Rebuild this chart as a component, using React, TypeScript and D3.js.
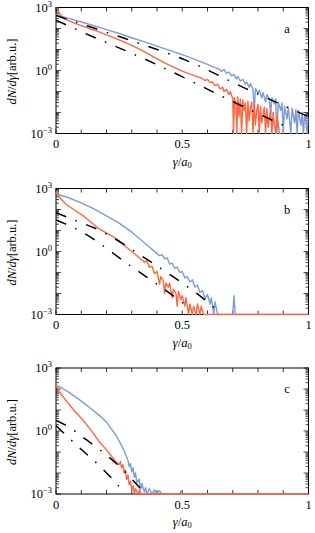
import React from "react";
import * as d3 from "d3";

const WIDTH = 315;
const HEIGHT = 533;
const LEFT = 56;
const RIGHT = 308.5;
const PANEL_TOPS = [7.5, 188.5, 368];
const PANEL_H = 126;

const BLUE = "#7d9bd6";
const RED = "#ff6640";
const FONT = "'Liberation Serif', 'DejaVu Serif', serif";

type Pt = [number, number];

// each point: [gamma / a0, log10(dN/dgamma)]
const aBlue: Pt[] = [
  [0, 2.66], [0.02, 2.58], [0.05, 2.48], [0.1, 2.31], [0.15, 2.13], [0.2, 1.95], [0.25, 1.76],
  [0.3, 1.56], [0.35, 1.36], [0.4, 1.16], [0.45, 0.96], [0.5, 0.76], [0.55, 0.53], [0.6, 0.29],
  [0.63, 0.14], [0.645, 0.08], [0.655, -0.05], [0.665, 0.05], [0.675, -0.12], [0.685, -0.08],
  [0.695, -0.25], [0.705, -0.2], [0.715, -0.4], [0.72, -0.28], [0.73, -0.5], [0.74, -0.42],
  [0.75, -0.65], [0.755, -0.55], [0.765, -0.8], [0.77, -0.62], [0.78, -0.9], [0.785, -1.9],
  [0.79, -0.85], [0.8, -1.1], [0.805, -0.95], [0.815, -1.3], [0.82, -1.05], [0.83, -1.5],
  [0.835, -1.15], [0.845, -1.35], [0.85, -2.1], [0.855, -1.3], [0.865, -1.6], [0.87, -1.35],
  [0.875, -3], [0.88, -1.5], [0.89, -1.9], [0.895, -1.55], [0.9, -3], [0.905, -1.7], [0.915, -2.3],
  [0.92, -1.75], [0.93, -3], [0.935, -1.8], [0.945, -2.5], [0.95, -1.85], [0.955, -3], [0.96, -1.9],
  [0.97, -2.6], [0.975, -2.0], [0.98, -3], [0.985, -2.1], [0.99, -2.4], [0.995, -3], [1.0, -2.2],
];
const aRed: Pt[] = [
  [0, 3.3], [0.004, 3.0], [0.01, 2.8], [0.02, 2.62], [0.03, 2.51], [0.045, 2.4], [0.07, 2.27],
  [0.1, 2.14], [0.15, 1.93], [0.2, 1.7], [0.25, 1.46], [0.3, 1.2], [0.35, 0.9], [0.4, 0.55],
  [0.45, 0.24], [0.5, -0.03], [0.55, -0.26], [0.58, -0.38], [0.59, -0.48], [0.6, -0.42],
  [0.61, -0.58], [0.62, -0.55], [0.63, -0.72], [0.64, -0.65], [0.65, -0.88], [0.66, -0.8],
  [0.665, -1.0], [0.675, -0.9], [0.685, -1.15], [0.69, -1.0], [0.7, -1.35], [0.703, -3],
  [0.707, -1.3], [0.712, -1.6], [0.716, -3], [0.72, -1.25], [0.725, -2.2], [0.73, -1.35],
  [0.735, -3], [0.74, -1.4], [0.745, -1.9], [0.75, -1.55], [0.755, -3], [0.76, -1.45],
  [0.765, -2.4], [0.77, -1.8], [0.775, -1.5], [0.78, -3], [0.785, -1.6], [0.79, -2.6],
  [0.795, -1.9], [0.8, -1.6], [0.805, -3], [0.81, -1.7], [0.815, -2.5], [0.82, -2.1],
  [0.825, -1.75], [0.83, -3], [0.835, -1.8], [0.84, -2.7], [0.845, -2.3], [0.85, -1.9],
  [0.855, -3], [0.86, -2.0], [0.865, -2.6], [0.87, -3], [0.875, -2.1], [0.885, -3], [0.89, -3],
];
const aFitHigh: Pt[] = [[0, 2.62], [0.15, 2.02], [0.4, 1.0], [0.5, 0.56], [0.75, -0.85], [1.0, -2.2]];
const aFitLow: Pt[] = [[0, 2.4], [0.1, 1.85], [0.36, 0.5], [0.735, -1.68], [0.92, -2.72]];

const bBlue: Pt[] = [
  [0, 2.75], [0.05, 2.56], [0.1, 2.32], [0.15, 2.03], [0.2, 1.7], [0.25, 1.35], [0.3, 0.92],
  [0.35, 0.42], [0.4, -0.1], [0.41, -0.2], [0.42, -0.15], [0.43, -0.35], [0.44, -0.3],
  [0.45, -0.6], [0.46, -0.55], [0.47, -0.8], [0.48, -0.75], [0.49, -1.0], [0.5, -0.95],
  [0.51, -1.25], [0.52, -1.2], [0.53, -1.45], [0.54, -1.35], [0.55, -1.7], [0.56, -1.6],
  [0.57, -1.95], [0.58, -1.85], [0.59, -2.25], [0.6, -2.05], [0.61, -2.5], [0.615, -2.2],
  [0.625, -3], [0.63, -2.4], [0.64, -3], [0.7, -3], [0.705, -2.1], [0.71, -3], [1.0, -3],
];
const bRed: Pt[] = [
  [0, 2.9], [0.006, 2.7], [0.02, 2.5], [0.04, 2.25], [0.07, 2.0], [0.108, 1.7], [0.14, 1.38],
  [0.174, 1.05], [0.21, 0.82], [0.24, 0.6], [0.27, 0.3], [0.3, 0.0], [0.33, -0.3], [0.35, -0.5],
  [0.36, -0.45], [0.37, -0.75], [0.38, -0.7], [0.39, -1.05], [0.4, -0.95], [0.41, -1.55],
  [0.415, -1.2], [0.425, -1.4], [0.43, -2.0], [0.435, -1.5], [0.445, -1.7], [0.45, -1.5],
  [0.46, -2.2], [0.465, -1.8], [0.475, -2.0], [0.48, -2.6], [0.485, -1.9], [0.495, -2.3],
  [0.5, -2.1], [0.51, -2.6], [0.515, -2.2], [0.525, -3], [0.53, -2.5], [0.54, -3],
  [0.545, -2.6], [0.555, -3], [0.56, -2.5], [0.57, -3], [0.575, -2.6], [0.585, -3], [1.0, -3],
];
const bFitHigh: Pt[] = [[0, 1.85], [0.082, 1.45], [0.15, 1.13], [0.37, -0.45], [0.49, -1.42], [0.59, -2.3], [0.636, -2.78]];
const bFitLow: Pt[] = [[0, 1.5], [0.095, 0.98], [0.3, -0.73], [0.405, -1.6], [0.48, -2.25], [0.53, -2.7]];

const cBlue: Pt[] = [
  [0, 2.1], [0.01, 2.12], [0.02, 2.08], [0.03, 2.0], [0.05, 1.85], [0.08, 1.6], [0.108, 1.35],
  [0.14, 1.05], [0.174, 0.72], [0.2, 0.42], [0.24, -0.25], [0.26, -0.7], [0.27, -0.95],
  [0.28, -1.25], [0.285, -1.4], [0.29, -1.7], [0.295, -1.55], [0.3, -1.95], [0.305, -1.75],
  [0.31, -2.2], [0.315, -2.0], [0.32, -2.45], [0.33, -2.3], [0.335, -2.8], [0.34, -2.5],
  [0.35, -2.9], [0.355, -2.7], [0.36, -3], [0.37, -2.75], [0.38, -3], [0.39, -2.8], [0.395, -3],
  [0.41, -2.85], [0.42, -3], [0.49, -3], [0.495, -2.85], [0.5, -3], [1.0, -3],
];
const cRed: Pt[] = [
  [0, 2.3], [0.005, 2.1], [0.012, 1.9], [0.02, 1.75], [0.03, 1.6], [0.042, 1.42], [0.07, 1.0],
  [0.108, 0.5], [0.14, 0.02], [0.174, -0.55], [0.2, -0.9], [0.22, -1.2], [0.24, -1.5],
  [0.25, -1.6], [0.255, -1.45], [0.26, -1.75], [0.265, -1.6], [0.27, -2.0], [0.275, -1.85],
  [0.28, -2.3], [0.285, -2.1], [0.29, -2.55], [0.295, -2.4], [0.3, -2.8], [0.305, -2.6],
  [0.31, -3], [0.315, -2.75], [0.325, -3], [0.33, -2.8], [0.335, -3], [1.0, -3],
];
const cFitHigh: Pt[] = [[0, 0.5], [0.03, 0.33], [0.137, -0.57], [0.24, -1.56], [0.333, -2.71], [0.355, -3]];
const cFitLow: Pt[] = [[0, 0.25], [0.04, -0.2], [0.082, -0.68], [0.181, -1.76], [0.264, -2.84], [0.275, -3]];

const panelLabels = ["a", "b", "c"];
const blueSeries = [aBlue, bBlue, cBlue];
const redSeries = [aRed, bRed, cRed];
const fitHighSeries = [aFitHigh, bFitHigh, cFitHigh];
const fitLowSeries = [aFitLow, bFitLow, cFitLow];

const xTickLabels = [0, 0.5, 1];
const yTickExps = [3, 0, -3];

const xScale = d3.scaleLinear().domain([0, 1]).range([LEFT, RIGHT]);

const Panel = ({ index }: { index: number }) => {
  const top = PANEL_TOPS[index];
  const bottom = top + PANEL_H;
  const yScale = d3.scaleLog().domain([1e-3, 1e3]).range([bottom, top]);
  const clipId = `clip-${index}`;

  const line = d3
    .line<Pt>()
    .x((d) => xScale(d[0]))
    .y((d) => yScale(Math.pow(10, d[1])));
  const smooth = d3
    .line<Pt>()
    .x((d) => xScale(d[0]))
    .y((d) => yScale(Math.pow(10, d[1])))
    .curve(d3.curveMonotoneX);

  const yTicks = yScale.ticks();
  const xTicks = xScale.ticks(10);
  const midY = (top + bottom) / 2;

  return (
    <g>
      <defs>
        <clipPath id={clipId}>
          <rect x={LEFT} y={top} width={RIGHT - LEFT} height={PANEL_H + 1} />
        </clipPath>
      </defs>

      {/* frame and ticks */}
      <rect x={LEFT} y={top} width={RIGHT - LEFT} height={PANEL_H} fill="none" stroke="#000" strokeWidth={1} />
      {xTicks.map((t, i) => (
        <g key={"xt" + i} stroke="#000" strokeWidth={0.8}>
          <line x1={xScale(t)} x2={xScale(t)} y1={bottom} y2={bottom - 4} />
          <line x1={xScale(t)} x2={xScale(t)} y1={top} y2={top + 4} />
        </g>
      ))}
      {yTicks.map((t, i) => {
        const major = Math.abs(Math.log10(t) - Math.round(Math.log10(t))) < 1e-6;
        const len = major ? 5 : 3;
        const y = yScale(t);
        return (
          <g key={"yt" + i} stroke="#000" strokeWidth={0.7}>
            <line x1={LEFT} x2={LEFT + len} y1={y} y2={y} />
            <line x1={RIGHT} x2={RIGHT - len} y1={y} y2={y} />
          </g>
        );
      })}

      {/* data */}
      <g clipPath={`url(#${clipId})`} fill="none">
        <path d={line(blueSeries[index]) || ""} stroke={BLUE} strokeWidth={1.4} strokeLinejoin="round" />
        <path d={line(redSeries[index]) || ""} stroke={RED} strokeWidth={1.4} strokeLinejoin="round" />
        <path d={smooth(fitHighSeries[index]) || ""} stroke="#000" strokeWidth={1.5} strokeDasharray="11 10 1.5 10" />
        <path d={smooth(fitLowSeries[index]) || ""} stroke="#000" strokeWidth={1.5} strokeDasharray="11 10 1.5 10" />
      </g>

      {/* tick labels */}
      {xTickLabels.map((t) => (
        <text key={"xl" + t} x={xScale(t)} y={bottom + 14.5} textAnchor="middle" fontSize={12.5} fontFamily={FONT}>
          {t}
        </text>
      ))}
      {yTickExps.map((e) => (
        <text key={"yl" + e} x={LEFT - 4} y={yScale(Math.pow(10, e)) + 4} textAnchor="end" fontSize={12.5} fontFamily={FONT}>
          10
          <tspan dy={-5} fontSize={8.5}>
            {e < 0 ? "\u2212" + Math.abs(e) : String(e)}
          </tspan>
        </text>
      ))}

      {/* axis titles */}
      <text x={(LEFT + RIGHT) / 2} y={bottom + 32} textAnchor="middle" fontSize={12.5} fontFamily={FONT}>
        <tspan fontStyle="italic">γ</tspan>/<tspan fontStyle="italic">a</tspan>
        <tspan dy={2} fontSize={8.5}>0</tspan>
      </text>
      <text transform={`translate(16,${midY + 1}) rotate(-90)`} textAnchor="middle" fontSize={12.5} fontFamily={FONT}>
        <tspan fontStyle="italic">dN</tspan>/<tspan fontStyle="italic">dγ</tspan>[arb.u.]
      </text>
      <text x={287} y={top + 25} textAnchor="middle" fontSize={12.5} fontFamily={FONT}>
        {panelLabels[index]}
      </text>
    </g>
  );
};

export default function App() {
  return (
    <svg
      width={WIDTH}
      height={HEIGHT}
      style={{ position: "absolute", left: 0, top: 0, background: "#fff" }}
    >
      {PANEL_TOPS.map((_, i) => (
        <Panel key={i} index={i} />
      ))}
    </svg>
  );
}
